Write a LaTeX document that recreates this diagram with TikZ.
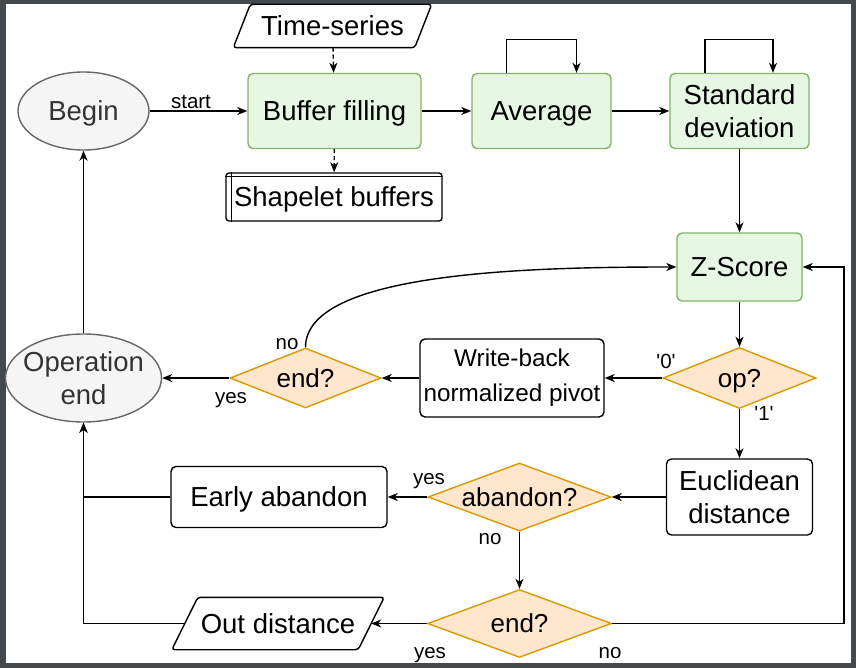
\documentclass[tikz,border=0pt]{standalone}
\usepackage{fontspec}
\setmainfont{Liberation Sans}
\newfontfamily\arial{Liberation Sans}
\usetikzlibrary{shapes.geometric,arrows.meta,calc}
\definecolor{gfill}{RGB}{230,248,228}
\definecolor{gline}{HTML}{82B366}
\definecolor{ofill}{HTML}{FFE6CC}
\definecolor{oline}{HTML}{D79B00}
\definecolor{efill}{HTML}{F5F5F5}
\definecolor{eline}{HTML}{666666}
\definecolor{etext}{HTML}{333333}
\definecolor{framecol}{HTML}{46494C}
\begin{document}
\begin{tikzpicture}[x=1pt,y=-1pt, line width=1.4pt,
  big/.style={font=\arial\fontsize{27.5}{33}\selectfont, align=center},
  one/.style={text height=24.9pt, text depth=5.8pt},
  gbox/.style={big, draw=gline, fill=gfill, rounded corners=5pt, inner sep=0pt},
  pbox/.style={big, draw=black, fill=white, rounded corners=5pt, inner sep=0pt},
  dec/.style={diamond, draw=oline, fill=ofill, inner sep=0pt, shape aspect=2.7},
  dtext/.style={font=\arial\fontsize{26}{31}\selectfont, inner sep=0pt, text height=23.5pt, text depth=5.5pt},
  term/.style={ellipse, draw=eline, fill=efill, inner sep=0pt},
  ttext/.style={big, text=etext, inner sep=0pt},
  lbl/.style={font=\arial\fontsize{20.5}{24}\selectfont, inner sep=0pt, text height=18.5pt, text depth=4.3pt},
  arr/.style={-{Stealth[length=10pt,width=8pt,inset=3pt]}},
  dsh/.style={dash pattern=on 4pt off 3pt},
]
\useasboundingbox (0,0) rectangle (856,668);
\fill[framecol] (0,0) rectangle (856,668);
\fill[white] (6,4) rectangle (851,663);

% top row
\node[big, one, minimum width=180pt, minimum height=42pt, inner sep=0pt] (ts) at (332.5,26) {Time-series};
\draw[rounded corners=3pt] ($(ts.north west)+(8.5,0)$) -- ($(ts.north east)+(8.5,0)$) -- ($(ts.south east)+(-8.5,0)$) -- ($(ts.south west)+(-8.5,0)$) -- cycle;

\node[term, minimum width=131pt, minimum height=78pt] (bg) at (83.5,111) {};
\node[ttext, one] (bgt) at (bg) {Begin};
\node[gbox, one, minimum width=173pt, minimum height=75pt] (bf) at (334.5,111) {Buffer filling};
\node[gbox, one, minimum width=139pt, minimum height=75pt] (av) at (541.5,111) {Average};
\node[gbox, minimum width=139pt, minimum height=75pt] (sd) at (739.5,111) {Standard\\deviation};

\node[pbox, one, rounded corners=3pt, minimum width=216pt, minimum height=48pt] (sb) at (334,197) {Shapelet buffers};
\draw ([xshift=6pt]sb.north west) -- ([xshift=6pt]sb.south west);
\draw ([yshift=-4pt]sb.north west) -- ([yshift=-4pt]sb.north east);

\node[gbox, one, minimum width=125pt, minimum height=68pt] (zs) at (739.5,267) {Z-Score};

% middle row
\node[term, minimum width=156pt, minimum height=88pt] (oe) at (83.5,378) {};
\node[ttext] (oet) at (oe) {Operation\\end};
\node[dec, minimum width=151pt, minimum height=60pt] (e1) at (305.5,378) {};
\node[dtext] (e1t) at (e1) {end?};
\node[pbox, font=\arial\fontsize{24.3}{35}\selectfont, minimum width=184pt, minimum height=78pt] (wb) at (512,378) {Write-back\\normalized pivot};
\node[dec, minimum width=153pt, minimum height=61pt] (op) at (739.5,378) {};
\node[dtext] (opt) at (op) {op?};

% lower rows
\node[pbox, minimum width=146pt, minimum height=76pt] (ed) at (739.5,497) {Euclidean\\distance};
\node[dec, minimum width=183pt, minimum height=68pt] (ab) at (519.5,497) {};
\node[dtext] (abt) at (ab) {abandon?};
\node[pbox, one, minimum width=216pt, minimum height=61pt] (ea) at (279,497) {Early abandon};
\node[dec, minimum width=184pt, minimum height=68pt] (e2) at (519.5,623.5) {};
\node[dtext] (e2t) at (e2) {end?};
\node[big, one, minimum width=185pt, minimum height=51pt, inner sep=0pt] (od) at (278,623.5) {Out distance};
\draw[rounded corners=3pt] ($(od.north west)+(13,0)$) -- ($(od.north east)+(13,0)$) -- ($(od.south east)+(-13,0)$) -- ($(od.south west)+(-13,0)$) -- cycle;
\coordinate (rc) at (844,400);

% connectors
\draw[arr, dsh] (ts) -- (bf);
\draw[arr, dsh] (bf) -- (sb);
\draw[arr] (bg) -- (bf);
\draw[arr] (bf) -- (av);
\draw[arr] (av) -- (sd);
\draw[arr] ([xshift=-35pt]av.north) -- ++(0,-33) -| ([xshift=35pt]av.north);
\draw[arr] ([xshift=-34.5pt]sd.north) -- ++(0,-33) -| ([xshift=33.5pt]sd.north);
\draw[arr] (sd) -- (zs);
\draw[arr] (zs) -- (op);
\draw[arr] (op) -- (wb);
\draw[arr] (wb) -- (e1);
\draw[arr] (e1) -- (oe);
\draw[arr] (e1.north) .. controls +(0,-75) and +(-150,0) .. (zs.west);
\draw[arr] (oe) -- (bg);
\draw[arr] (op) -- (ed);
\draw[arr] (ed) -- (ab);
\draw[arr] (ab) -- (ea);
\draw[arr] (ea.west) -| (oe.south);
\draw[arr] (ab) -- (e2);
\draw[arr] (e2) -- (od);
\draw[arr] (od.west) -| (oe.south);
\draw[arr] (e2.east) -- (e2.east -| rc) -- (zs.east -| rc) -- (zs.east);

% labels
\node[lbl] (lstart) at (191,101) {start};
\node[lbl] (l0) at (666,361) {\textquotesingle 0\textquotesingle};
\node[lbl] (l1) at (764,413) {\textquotesingle 1\textquotesingle};
\node[lbl] (lno1) at (287,342) {no};
\node[lbl] (lyes1) at (231,396) {yes};
\node[lbl] (lyes2) at (429,477) {yes};
\node[lbl] (lno2) at (490,537) {no};
\node[lbl] (lyes3) at (430,651) {yes};
\node[lbl] (lno3) at (610,651) {no};
\end{tikzpicture}
\end{document}
